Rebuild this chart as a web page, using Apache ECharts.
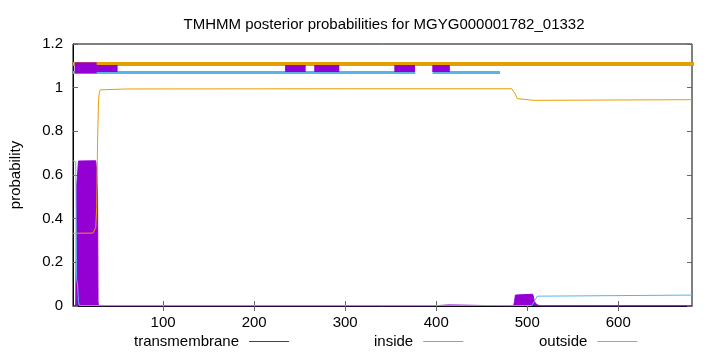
<!DOCTYPE html>
<html>
<head>
<meta charset="utf-8">
<script src="https://cdn.jsdelivr.net/npm/echarts@6/dist/echarts.min.js"></script>
<style>
  html, body { margin: 0; padding: 0; background: #fff; }
  #chart { width: 720px; height: 352px; }
</style>
</head>
<body>
<div id="chart"></div>
<script>
// residue positions and posterior probabilities
const seqLen = 681;
const tmX = [1, 4, 5, 6, 7, 26, 27, 28, 28.5, 29, 394, 396, 414, 416, 485, 486, 487, 488, 506, 507, 508, 510, 514, 681];
const tmY = [0, 0.005, 0.55, 0.6, 0.664, 0.665, 0.62, 0.5, 0.02, 0, 0, 0.005, 0.005, 0, 0, 0.02, 0.05, 0.054, 0.054, 0.045, 0.02, 0.008, 0, 0];
const insideX = [1, 4, 5, 6, 7, 8, 505, 507, 509, 511, 513, 681];
const insideY = [0.665, 0.66, 0.12, 0.1, 0.02, 0.002, 0.002, 0.01, 0.03, 0.045, 0.05, 0.05];
const outsideX = [1, 23, 25, 26, 27, 28, 29, 30, 31, 33, 60, 300, 483, 485, 487, 489, 491, 507, 509, 681];
const outsideY = [0.333, 0.334, 0.34, 0.36, 0.45, 0.75, 0.94, 0.98, 0.99, 0.993, 0.994, 0.995, 0.995, 0.99, 0.97, 0.95, 0.943, 0.942, 0.945, 0.945];

// predicted topology bars drawn above the curves
const topOutside = [[1, 712]];
const topOutsideLevel = 1.108;
const topInside = [[1, 377], [396, 470]];
const topInsideLevel = 1.07;
const topTm = [[3, 50], [234, 256.6], [266, 293.5], [354, 376.7], [395.7, 415]];
const topTmLevel = 1.088;
const topTmHead = [[3, 27]];
const topTmHeadLevel = 1.091;

const xTicks = [100, 200, 300, 400, 500, 600];

const font = 'Liberation Sans';
const purple = '#9400d3', blue = '#56b4e9', orange = '#e69f00';

function zipXY(xs, ys) {
    return xs.map((x, i) => [x, ys[i]]);
}

// segments -> line points with gaps between them
function segs(list, level) {
    let out = [];
    list.forEach((s, i) => {
        if (i > 0) out.push([s[0] - 0.1, '-']);
        out.push([s[0], level]);
        out.push([s[1], level]);
    });
    return out;
}

let chart = echarts.init(document.getElementById('chart'));

// legend sample: plain 1px line, text on the left
function legendAt(left, name, color) {
    return {
        left: left,
        top: 334,
        padding: 0,
        align: 'right',
        icon: 'path://M0,0H40V1H0Z',
        itemWidth: 40,
        itemHeight: 1,
        itemStyle: { color: color, borderWidth: 0 },
        lineStyle: { width: 0 },
        data: [name],
        textStyle: { fontFamily: font, fontSize: 15, color: '#000', padding: [0, 5, 0, 0] }
    };
}

let option = {
    animation: false,
    title: {
        text: 'TMHMM posterior probabilities for MGYG000001782_01332',
        left: 379,
        textAlign: 'center',
        top: 12,
        textStyle: { fontFamily: font, fontSize: 15, fontWeight: 'normal', color: '#000' }
    },
    legend: [
        legendAt(134, 'transmembrane', purple),
        legendAt(374, 'inside', blue),
        legendAt(539, 'outside', orange)
    ],
    grid: {
        left: 73, right: 28, top: 44, bottom: 46,
        show: true, borderColor: '#000', borderWidth: 1
    },
    xAxis: [{
        type: 'value', min: 1, max: seqLen,
        axisLine: { show: true, lineStyle: { color: '#000' } },
        axisTick: { inside: true, length: 5, customValues: xTicks, lineStyle: { color: '#666' } },
        axisLabel: { customValues: xTicks, margin: 9, fontFamily: font, fontSize: 15, color: '#000' },
        splitLine: { show: false }
    }, {
        type: 'value', min: 1, max: seqLen, position: 'top',
        axisLine: { show: false },
        axisTick: { inside: true, length: 5, customValues: xTicks, lineStyle: { color: '#666' } },
        axisLabel: { show: false },
        splitLine: { show: false }
    }],
    yAxis: [{
        type: 'value', min: 0, max: 1.2, interval: 0.2,
        name: 'probability', nameLocation: 'middle', nameGap: 50,
        nameTextStyle: { fontFamily: font, fontSize: 15, color: '#000' },
        axisLine: { show: true, lineStyle: { color: '#000' } },
        axisTick: { inside: true, length: 5, lineStyle: { color: '#666' } },
        axisLabel: { margin: 10, fontFamily: font, fontSize: 15, color: '#000' },
        splitLine: { show: false }
    }, {
        type: 'value', min: 0, max: 1.2, interval: 0.2, position: 'right',
        axisLine: { show: false },
        axisTick: { inside: true, length: 5, lineStyle: { color: '#666' } },
        axisLabel: { show: false },
        splitLine: { show: false }
    }],
    series: [
        {
            name: 'transmembrane', type: 'line', color: purple,
            data: zipXY(tmX, tmY), showSymbol: false,
            itemStyle: { color: purple },
            lineStyle: { width: 1, color: purple },
            areaStyle: { color: purple, opacity: 1 }
        },
        {
            name: 'inside', type: 'line', color: blue,
            data: zipXY(insideX, insideY), showSymbol: false,
            itemStyle: { color: blue },
            lineStyle: { width: 1, color: blue }
        },
        {
            name: 'outside', type: 'line', color: orange,
            data: zipXY(outsideX, outsideY), showSymbol: false,
            itemStyle: { color: orange },
            lineStyle: { width: 1, color: orange }
        },
        {
            name: 'topInside', type: 'line', data: segs(topInside, topInsideLevel),
            showSymbol: false, connectNulls: false, clip: false,
            lineStyle: { width: 3, color: blue, cap: 'butt' }
        },
        {
            name: 'topOutside', type: 'line', data: segs(topOutside, topOutsideLevel),
            showSymbol: false, clip: false,
            lineStyle: { width: 4, color: orange, cap: 'butt' }
        },
        {
            name: 'topTm', type: 'line', data: segs(topTm, topTmLevel),
            showSymbol: false, connectNulls: false, clip: false,
            lineStyle: { width: 7, color: purple, cap: 'butt' }
        },
        {
            name: 'topTmHead', type: 'line', data: segs(topTmHead, topTmHeadLevel),
            showSymbol: false, clip: false,
            lineStyle: { width: 11, color: purple, cap: 'butt' }
        }
    ]
};

chart.setOption(option);
</script>
</body>
</html>
